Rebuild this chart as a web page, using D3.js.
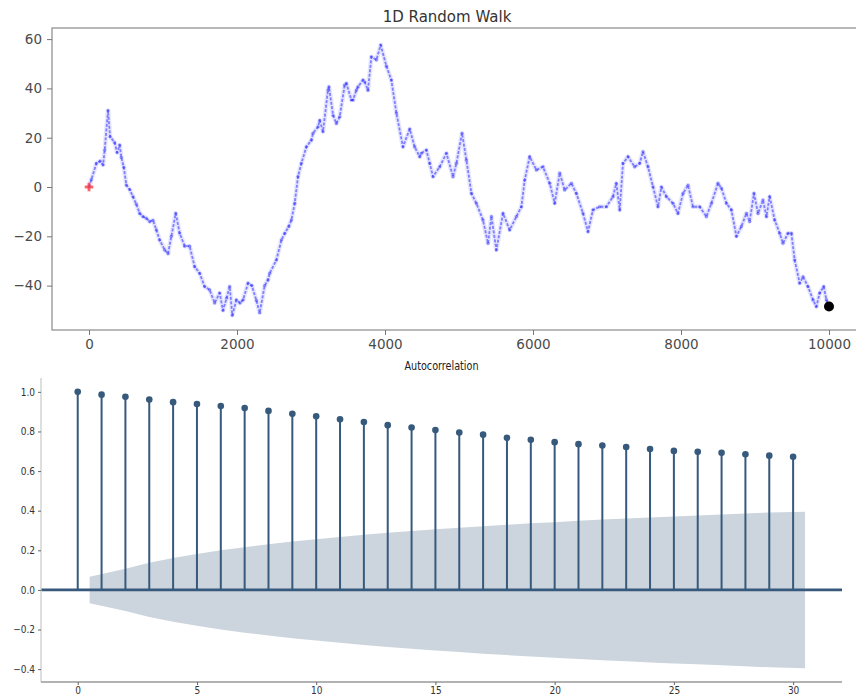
<!DOCTYPE html>
<html>
<head>
<meta charset="utf-8">
<script src="https://cdn.jsdelivr.net/npm/d3@7"></script>
<style>
  html, body { margin: 0; padding: 0; background: #fff; }
  svg { display: block; }
</style>
</head>
<body>
<svg id="chart" width="856" height="696"></svg>
<script>
// ---------------- Data ----------------
// 1D random walk, values at selected steps
const walkSteps = [0,32,100,150,190,212,257,285,347,380,415,437,470,505,550,595,640,685,730,775,820,865,910,955,1023,1068,1113,1172,1225,1293,1360,1428,1495,1563,1630,1698,1766,1811,1860,1901,1937,1991,2040,2082,2149,2200,2262,2307,2374,2419,2442,2532,2600,2645,2700,2735,2780,2824,2870,2938,3005,3027,3095,3118,3162,3230,3243,3299,3343,3388,3455,3478,3546,3568,3613,3635,3703,3726,3770,3816,3884,3942,4019,4086,4154,4243,4334,4401,4469,4492,4559,4604,4649,4739,4830,4919,4965,5041,5100,5168,5235,5324,5392,5438,5505,5595,5685,5776,5843,5888,5955,6046,6135,6226,6293,6361,6428,6519,6586,6676,6743,6811,6901,6992,7081,7126,7172,7216,7284,7374,7442,7486,7554,7622,7689,7735,7803,7892,7959,8027,8095,8162,8253,8343,8411,8500,8546,8614,8681,8749,8816,8884,8928,8986,9041,9108,9155,9198,9266,9334,9378,9446,9492,9536,9604,9649,9716,9784,9829,9874,9928,9965,10000];
const walkValues = [0,3,9.6,10.5,9,15,31,20.4,18,14,17,12,8,0.8,-1,-4,-7,-10.7,-12,-12.7,-14,-13.5,-17.4,-21.5,-25.5,-27,-20,-10.7,-18.7,-24,-24,-32.3,-35,-40.4,-41.7,-47,-43,-50,-45,-40.4,-52,-45.8,-47,-45.8,-39,-40,-46,-51,-40,-37.7,-35,-29.6,-21.5,-18.8,-16,-13.4,-6.6,4.2,9.6,16.3,19,21.8,24.4,27,22.5,39.3,40.6,29,25.8,28.5,41.3,42,35.3,35.3,39.3,40.6,43.4,42.6,39.3,52.8,51.6,57.6,49,43.4,30,16.3,23.5,16.3,12.3,13.7,15,9.6,4.2,8.2,13.7,4.2,9.6,21.8,10.9,-2.6,-6.6,-13.4,-22.8,-12,-25.5,-10.7,-17.4,-12,-8,2.8,12.3,6.9,8.2,1.5,-6.6,5.6,-1.2,1.5,-2.6,-10.7,-18.1,-9.3,-8,-8,-3.9,1.5,-9.3,9.6,12.3,8.2,9.6,14.3,8.2,0.1,-8,0,-3.9,-6.6,-10.7,-2.6,0.7,-8,-8,-12,-6.6,1.5,-0.5,-6.6,-9.3,-20,-16,-10.7,-14,-2.6,-10.7,-5.3,-12,-3.9,-13.4,-18.8,-22.8,-18.8,-18.8,-29.6,-39,-36.4,-40.4,-45.8,-48.5,-43,-40.4,-45.8,-48.5];
const walkXTicks = [0, 2000, 4000, 6000, 8000, 10000];
const walkYTicks = [-40, -20, 0, 20, 40, 60];

// Autocorrelation
const lags = d3.range(0, 31);
const acfValues = [1.0,0.986,0.975,0.961,0.948,0.939,0.928,0.918,0.904,0.889,0.877,0.862,0.848,0.832,0.820,0.807,0.795,0.784,0.768,0.758,0.746,0.736,0.729,0.721,0.711,0.702,0.697,0.692,0.685,0.678,0.672];
// half-width of the confidence band for lags 1..30
const confBand = [0.067,0.107,0.137,0.161,0.181,0.200,0.216,0.230,0.244,0.256,0.267,0.278,0.288,0.297,0.306,0.314,0.322,0.329,0.336,0.342,0.349,0.355,0.360,0.366,0.371,0.376,0.381,0.386,0.391,0.395];
const acfXTicks = [0, 5, 10, 15, 20, 25, 30];
const acfYTicks = [-0.4, -0.2, 0.0, 0.2, 0.4, 0.6, 0.8, 1.0];

// ---------------- Drawing ----------------
const svg = d3.select("#chart");
const defs = svg.append("defs");
defs.append("filter").attr("id", "soft")
  .attr("x", "-5%").attr("y", "-5%").attr("width", "110%").attr("height", "110%")
  .append("feGaussianBlur").attr("stdDeviation", 0.7);

// ===== Top panel: 1D Random Walk =====
const topBox = { left: 52, right: 866, top: 28, bottom: 330 };
const xw = d3.scaleLinear().domain([-500, 10500]).range([topBox.left, topBox.right]);
const yw = d3.scaleLinear().domain([-58, 64.5]).range([topBox.bottom, topBox.top]);

const gTop = svg.append("g");
gTop.append("text")
  .attr("x", 447).attr("y", 22)
  .attr("text-anchor", "middle")
  .style("font-family", "DejaVu Sans, sans-serif")
  .style("font-size", "15px")
  .style("fill", "#333")
  .text("1D Random Walk");

const walk = walkSteps.map((s, i) => [s, walkValues[i]]);
const line = d3.line().x(d => xw(d[0])).y(d => yw(d[1]));

// soft cloud to imitate many semi-transparent markers
const gWalk = gTop.append("g").attr("filter", "url(#soft)");
gWalk.append("path").datum(walk)
  .attr("d", line).attr("fill", "none")
  .attr("stroke", "#3030ff").attr("stroke-width", 4.5)
  .attr("stroke-opacity", 0.13).attr("stroke-linejoin", "round");
gWalk.append("path").datum(walk)
  .attr("d", line).attr("fill", "none")
  .attr("stroke", "#1a1aff").attr("stroke-width", 1.8)
  .attr("stroke-opacity", 0.5).attr("stroke-linejoin", "round")
  .attr("stroke-dasharray", "3,1.5");
gWalk.selectAll("circle.pt").data(walk).enter().append("circle")
  .attr("class", "pt")
  .attr("cx", d => xw(d[0])).attr("cy", d => yw(d[1]))
  .attr("r", 1.6).attr("fill", "#1a1aff").attr("fill-opacity", 0.45);

// start (red plus) and end (black dot)
const startPt = walk[0], endPt = walk[walk.length - 1];
gTop.append("path")
  .attr("d", d3.symbol(d3.symbolCross, 40)())
  .attr("transform", `translate(${xw(startPt[0])},${yw(startPt[1])})`)
  .attr("fill", "#ff3030").attr("fill-opacity", 0.75).attr("filter", "url(#soft)");
gTop.append("circle")
  .attr("cx", xw(endPt[0])).attr("cy", yw(endPt[1]))
  .attr("r", 5).attr("fill", "#000");

// frame
gTop.append("rect")
  .attr("x", topBox.left).attr("y", topBox.top)
  .attr("width", topBox.right - topBox.left).attr("height", topBox.bottom - topBox.top)
  .attr("fill", "none").attr("stroke", "#8a8a8a").attr("stroke-width", 1.2);

const axTopX = gTop.append("g").attr("transform", `translate(0,${topBox.bottom})`)
  .call(d3.axisBottom(xw).tickValues(walkXTicks).tickFormat(d3.format("d")).tickSize(5).tickPadding(4));
const axTopY = gTop.append("g").attr("transform", `translate(${topBox.left},0)`)
  .call(d3.axisLeft(yw).tickValues(walkYTicks).tickSize(5).tickPadding(5));
[axTopX, axTopY].forEach(a => {
  a.select(".domain").remove();
  a.selectAll(".tick line").attr("stroke", "#777");
  a.selectAll("text").style("font-family", "DejaVu Sans, sans-serif")
    .style("font-size", "13.5px").style("fill", "#4a4a4a");
});

// ===== Bottom panel: Autocorrelation =====
const botBox = { left: 41, right: 842, top: 378, bottom: 682 };
const xa = d3.scaleLinear().domain([-1.54, 32.05]).range([botBox.left, botBox.right]);
const ya = d3.scaleLinear().domain([-0.465, 1.07]).range([botBox.bottom, botBox.top]);
const stemColor = "#36597c";
const condensed = "'DejaVu Sans Condensed', 'Liberation Sans Narrow', 'DejaVu Sans', sans-serif";

const gBot = svg.append("g");
gBot.append("text")
  .attr("x", (botBox.left + botBox.right) / 2).attr("y", 370)
  .attr("text-anchor", "middle")
  .attr("textLength", 74).attr("lengthAdjust", "spacingAndGlyphs")
  .style("font-family", condensed)
  .style("font-size", "12px")
  .style("fill", "#222")
  .text("Autocorrelation");

// confidence band (statsmodels style: ends shifted by half a lag)
const bandLags = lags.slice(1).map((l, i, arr) =>
  i === 0 ? l - 0.5 : (i === arr.length - 1 ? l + 0.5 : l));
const bandData = bandLags.map((l, i) => [l, confBand[i]]);
gBot.append("path").datum(bandData)
  .attr("d", d3.area().x(d => xa(d[0])).y0(d => ya(-d[1])).y1(d => ya(d[1])))
  .attr("fill", "#ccd5dd");

// zero line
gBot.append("line")
  .attr("x1", botBox.left).attr("x2", botBox.right)
  .attr("y1", ya(0)).attr("y2", ya(0))
  .attr("stroke", stemColor).attr("stroke-width", 2.6);

// stems + markers
const acf = lags.map((l, i) => [l, acfValues[i]]);
gBot.selectAll("line.stem").data(acf).enter().append("line")
  .attr("class", "stem")
  .attr("x1", d => xa(d[0])).attr("x2", d => xa(d[0]))
  .attr("y1", ya(0)).attr("y2", d => ya(d[1]))
  .attr("stroke", stemColor).attr("stroke-width", 2);
gBot.selectAll("circle.mk").data(acf).enter().append("circle")
  .attr("class", "mk")
  .attr("cx", d => xa(d[0])).attr("cy", d => ya(d[1]))
  .attr("r", 3.3).attr("fill", stemColor);

// spines (left + bottom only)
gBot.append("line").attr("x1", botBox.left).attr("x2", botBox.left)
  .attr("y1", botBox.top).attr("y2", botBox.bottom)
  .attr("stroke", "#c8c8c8").attr("stroke-width", 1.2);
gBot.append("line").attr("x1", botBox.left).attr("x2", botBox.right)
  .attr("y1", botBox.bottom).attr("y2", botBox.bottom)
  .attr("stroke", "#999").attr("stroke-width", 1.4);

const axBotX = gBot.append("g").attr("transform", `translate(0,${botBox.bottom})`)
  .call(d3.axisBottom(xa).tickValues(acfXTicks).tickFormat(d3.format("d")).tickSize(3).tickPadding(2));
const axBotY = gBot.append("g").attr("transform", `translate(${botBox.left},0)`)
  .call(d3.axisLeft(ya).tickValues(acfYTicks).tickFormat(d3.format(".1f")).tickSize(3).tickPadding(3));
[axBotX, axBotY].forEach(a => {
  a.select(".domain").remove();
  a.selectAll(".tick line").attr("stroke", "#666");
  a.selectAll("text").style("font-family", condensed)
    .style("font-size", "10px").style("fill", "#333");
});
</script>
</body>
</html>
